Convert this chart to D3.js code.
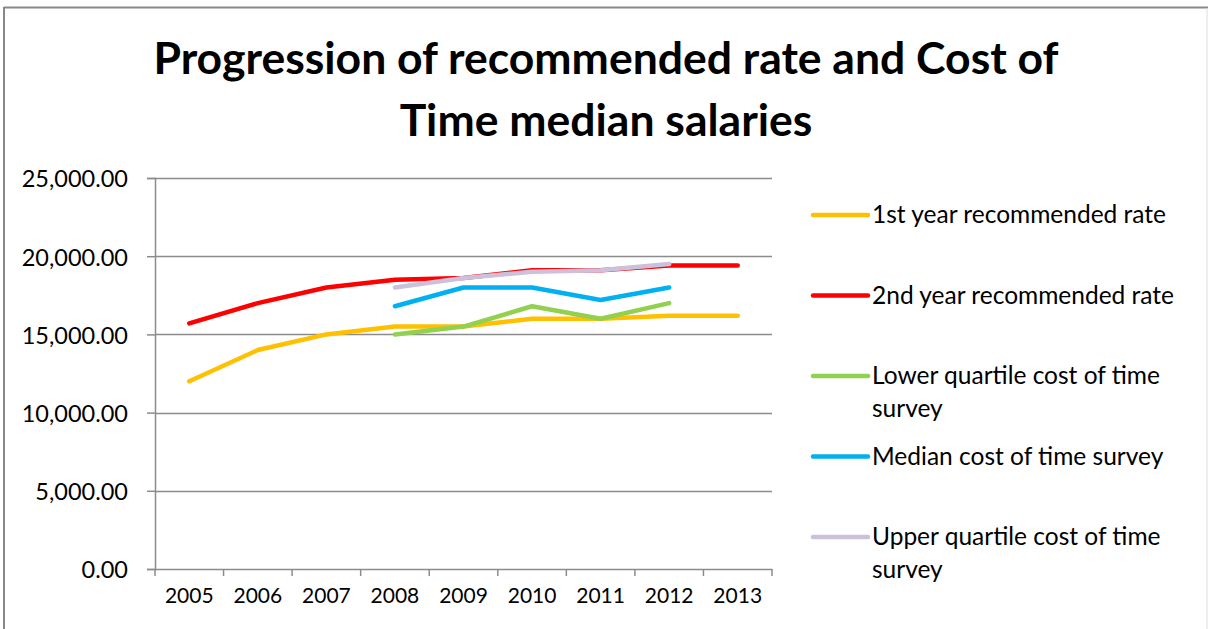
<!DOCTYPE html>
<html>
<head>
<meta charset="utf-8">
<script src="https://cdn.jsdelivr.net/npm/d3@7/dist/d3.min.js"></script>
<style>
  body { margin: 0; background: #fff; }
  svg { display: block; font-family: Lato, "Open Sans", sans-serif; }
</style>
</head>
<body>
<svg id="chart" width="1208" height="629"></svg>
<script>
// chart data
const years = ['2005', '2006', '2007', '2008', '2009', '2010', '2011', '2012', '2013']
const firstYearRate = [12000, 14000, 15000, 15500, 15500, 16000, 16000, 16200, 16200]
const secondYearRate = [15700, 17000, 18000, 18500, 18600, 19100, 19100, 19400, 19400]
const lowerQuartile = [null, null, null, 15000, 15500, 16800, 16000, 17000, null]
const medianCost = [null, null, null, 16800, 18000, 18000, 17200, 18000, null]
const upperQuartile = [null, null, null, 18000, 18600, 19000, 19100, 19500, null]
const seriesNames = ['1st year recommended rate', '2nd year recommended rate',
  'Lower quartile cost of time survey', 'Median cost of time survey', 'Upper quartile cost of time survey']
const seriesColors = ['#ffc000', '#ff0000', '#92d050', '#00b0f0', '#ccc0da']
const yTicks = [0, 5000, 10000, 15000, 20000, 25000]
const titleLines = ['Progression of recommended rate and Cost of', 'Time median salaries']

const series = [firstYearRate, secondYearRate, lowerQuartile, medianCost, upperQuartile]
  .map((vals, i) => ({name: seriesNames[i], color: seriesColors[i], values: vals}))

const svg = d3.select('#chart')

// outer frame like the excel chart area
svg.append('line').attr('x1', 4).attr('x2', 4).attr('y1', 7).attr('y2', 629)
   .style('stroke', '#888').style('stroke-width', 2)
svg.append('line').attr('x1', 4).attr('x2', 1208).attr('y1', 7.5).attr('y2', 7.5)
   .style('stroke', '#888').style('stroke-width', 2)
svg.append('line').attr('x1', 1207).attr('x2', 1207).attr('y1', 8).attr('y2', 629)
   .style('stroke', '#ddd').style('stroke-width', 1)

// title
svg.append('g').selectAll('text')
   .data(titleLines)
   .join('text')
   .attr('x', 606)
   .attr('y', (d, i) => 74 + i * 62)
   .attr('text-anchor', 'middle')
   .style('font-weight', 'bold')
   .style('font-size', '44.5px')
   .style('fill', '#000')
   .text(d => d)

//scales
const plotLeft = 155, plotRight = 772, plotTop = 178, plotBottom = 569

const xScale = d3.scaleBand()
                 .domain(years)
                 .range([plotLeft, plotRight])

const yScale = d3.scaleLinear()
                 .domain([0, 25000])
                 .range([plotBottom, plotTop])

//gridlines
svg.append('g')
   .selectAll('line')
   .data(yTicks.filter(d => d > 0))
   .join('line')
   .attr('x1', plotLeft)
   .attr('x2', plotRight)
   .attr('y1', d => Math.round(yScale(d)) + 0.5)
   .attr('y2', d => Math.round(yScale(d)) + 0.5)
   .style('stroke', '#8c8c8c')
   .style('stroke-width', 1.5)

//axis
const yAxis = svg.append('g')
                 .attr('transform', `translate(${plotLeft}, 0)`)
                 .call(d3.axisLeft(yScale)
                         .tickValues(yTicks)
                         .tickFormat(d3.format(',.2f'))
                         .tickSize(8)
                         .tickPadding(19))

const xAxis = svg.append('g')
                 .attr('transform', `translate(0, ${plotBottom})`)
                 .call(d3.axisBottom(xScale).tickSize(0).tickPadding(19))

// category boundary ticks on the x axis
xAxis.selectAll('.bound')
     .data(years.map(d => xScale(d)).concat([plotRight]))
     .join('line')
     .attr('class', 'bound')
     .attr('x1', d => d)
     .attr('x2', d => d)
     .attr('y1', 0)
     .attr('y2', 7)

svg.selectAll('.domain, .tick line, .bound')
   .style('stroke', '#8c8c8c')
   .style('stroke-width', 1.5)
svg.selectAll('.tick text')
   .style('font-family', 'Lato, "Open Sans", sans-serif')
   .style('fill', '#000')
yAxis.selectAll('.tick text').style('font-size', '23.5px').attr('dy', '0.38em')
xAxis.selectAll('.tick text').style('font-size', '21px')

// lines
const line = d3.line()
               .defined(d => d.v != null)
               .x(d => xScale(d.year) + xScale.bandwidth() / 2)
               .y(d => yScale(d.v))

svg.append('g')
   .selectAll('path')
   .data(series)
   .join('path')
   .attr('d', s => line(s.values.map((v, i) => ({year: years[i], v: v}))))
   .style('fill', 'none')
   .style('stroke', s => s.color)
   .style('stroke-width', 4.5)
   .style('stroke-linecap', 'round')
   .style('stroke-linejoin', 'round')

// legend
const legend = svg.append('g')
const items = legend.selectAll('g')
                    .data(series)
                    .join('g')
                    .attr('transform', (d, i) => `translate(813, ${215 + i * 80.5})`)

items.append('line')
     .attr('x1', 0)
     .attr('x2', 55)
     .style('stroke', d => d.color)
     .style('stroke-width', 4.5)
     .style('stroke-linecap', 'round')

items.append('text')
     .attr('x', 59)
     .attr('y', 8)
     .style('font-size', '24.5px')
     .style('fill', '#000')
     .each(function(d) {
        // wrap long names like excel does
        const el = d3.select(this)
        const words = d.name.split(' ')
        let lineWords = []
        let tspan = el.append('tspan').attr('x', 59).attr('dy', 0)
        words.forEach(w => {
            lineWords.push(w)
            tspan.text(lineWords.join(' '))
            if (tspan.node().getComputedTextLength() > 315 && lineWords.length > 1) {
                lineWords.pop()
                tspan.text(lineWords.join(' '))
                lineWords = [w]
                tspan = el.append('tspan').attr('x', 59).attr('dy', 33).text(w)
            }
        })
     })
</script>
</body>
</html>
